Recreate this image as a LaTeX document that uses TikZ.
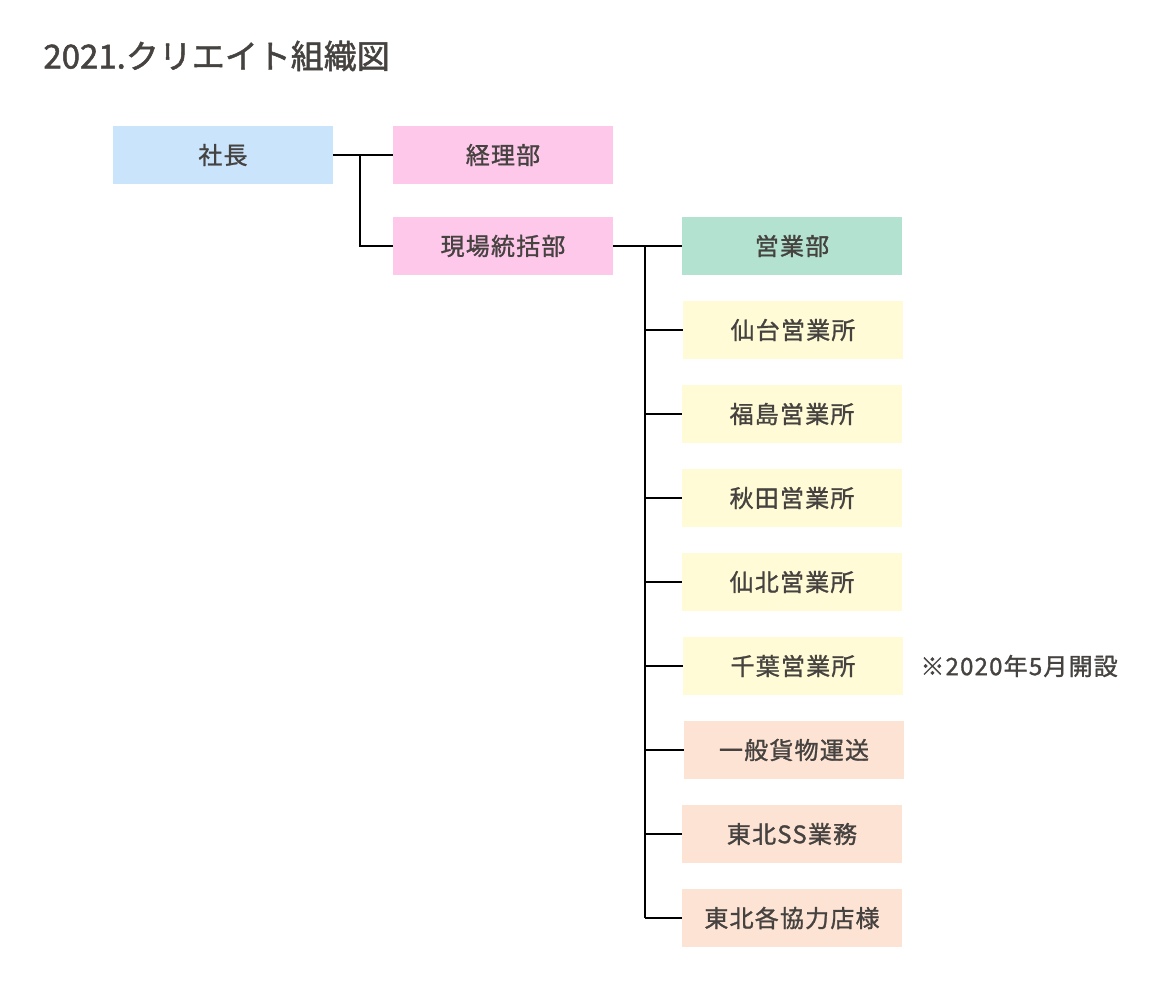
\documentclass[tikz,border=0pt]{standalone}
\usepackage{fontspec}
\setmainfont{Noto Sans CJK JP}[FakeBold=1.2,LetterSpace=5]
\newfontfamily\headfont{Noto Sans CJK JP}[FakeBold=1.5]
\usetikzlibrary{positioning}
\definecolor{inkgray}{HTML}{454240}
\definecolor{bossblue}{HTML}{C9E4FB}
\definecolor{deptpink}{HTML}{FEC8EA}
\definecolor{salesgreen}{HTML}{B3E3D0}
\definecolor{officeyellow}{HTML}{FFFBD6}
\definecolor{workpeach}{HTML}{FDE3D3}
\begin{document}
\begin{tikzpicture}[x=0.5pt,y=-0.5pt,
		box/.style={minimum width=110pt,minimum height=29pt,inner sep=0pt,outer sep=0pt,
			text=inkgray,font=\fontsize{12pt}{14pt}\selectfont},
		link/.style={draw=black,line width=0.7pt}]
		\useasboundingbox[fill=white] (0,0) rectangle (1170,1000);
		\node[anchor=west,text=inkgray,inner sep=0pt,font=\headfont\fontsize{16.5pt}{19pt}\selectfont] (title) at (43,56) {2021.クリエイト組織図};
		% top level
		\node[box,fill=bossblue] (shacho) at (223,155) {社長};
		\node[box,fill=deptpink] (keiri) at (503,155) {経理部};
		\node[box,fill=deptpink] (genba) at (503,246) {現場統括部};
		% under genba
		\node[box,fill=salesgreen] (eigyo) at (792,246) {営業部};
		\node[box,fill=officeyellow] (sendai) at (793,330) {仙台営業所};
		\node[box,fill=officeyellow] (fukushima) at (792,414) {福島営業所};
		\node[box,fill=officeyellow] (akita) at (792,498) {秋田営業所};
		\node[box,fill=officeyellow] (senboku) at (792,582) {仙北営業所};
		\node[box,fill=officeyellow] (chiba) at (793,666) {千葉営業所};
		\node[box,fill=workpeach] (kamotsu) at (794,750) {一般貨物運送};
		\node[box,fill=workpeach] (ssgyomu) at (792,834) {東北SS業務};
		\node[box,fill=workpeach] (kyoryoku) at (792,918) {東北各協力店様};
		\node[anchor=west,text=inkgray,inner sep=0pt,font=\fontsize{12pt}{14pt}\selectfont] (chibanote) at (920,666) {※2020年5月開設};
		% lines
		\coordinate (trunkA) at (360,155);
		\coordinate (trunkB) at (645,246);
		\draw[link] (shacho.east) -- (keiri.west);
		\draw[link] (trunkA) -- (trunkA |- genba.west) -- (genba.west);
		\draw[link] (genba.east) -- (eigyo.west);
		\draw[link] (trunkB) -- (trunkB |- kyoryoku.west);
		\foreach \n in {sendai,fukushima,akita,senboku,chiba,kamotsu,ssgyomu,kyoryoku}
			\draw[link] (trunkB |- \n.west) -- (\n.west);
	\end{tikzpicture}
\end{document}
